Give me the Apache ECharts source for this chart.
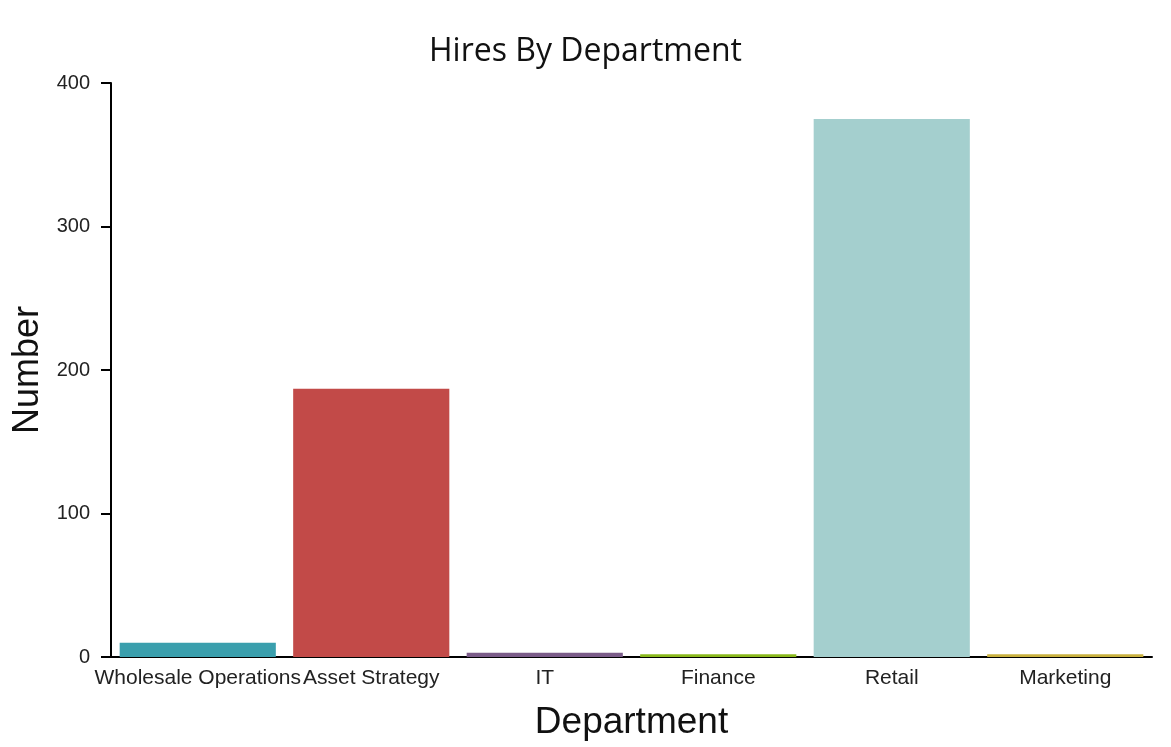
<!DOCTYPE html>
<html><head><meta charset="utf-8">
<script src="https://cdn.jsdelivr.net/npm/echarts@6/dist/echarts.min.js"></script>
<style>html,body{margin:0;padding:0;background:#fff}#c{width:1171px;height:747px}</style>
</head><body><div id="c"></div>
<script>
const categories = ["Wholesale Operations","Asset Strategy","IT","Finance","Retail","Marketing"];
const hires = [10, 187, 3, 2, 375, 2];
const barColors = ["#3a9fad","#c24a48","#7b5c89","#8ab91c","#a4cfce","#c9b13f"];
const yTicks = [0, 100, 200, 300, 400];

const chart = echarts.init(document.getElementById('c'));
chart.setOption({
  animation: false,
  title: {text: "Hires By Department", left: 'center', top: 31,
    textStyle: {fontFamily: "Open Sans", fontWeight: 'normal', fontSize: 32, color: '#111'}},
  grid: {left: 111, right: 19, top: 83, bottom: 90, containLabel: false, outerBoundsMode: 'none'},
  xAxis: {
    type: 'category', data: categories,
    name: "Department", nameLocation: 'middle', nameGap: 47,
    nameTextStyle: {fontFamily: "Liberation Sans", fontSize: 37, color: '#111'},
    axisLine: {lineStyle: {color: '#000', width: 2}},
    axisTick: {alignWithLabel: true, length: 7, lineStyle: {color: '#000', width: 2}},
    axisLabel: {fontFamily: "Liberation Sans", fontSize: 21, color: '#222', margin: 11, interval: 0}
  },
  yAxis: {
    type: 'value', min: yTicks[0], max: yTicks[yTicks.length-1], interval: 100,
    name: "Number", nameLocation: 'middle', nameGap: 62, nameRotate: 90,
    nameTextStyle: {fontFamily: "Liberation Sans", fontSize: 36, color: '#111'},
    axisLine: {show: true, lineStyle: {color: '#000', width: 2}},
    axisTick: {show: true, length: 10, lineStyle: {color: '#000', width: 2}},
    axisLabel: {fontFamily: "Liberation Sans", fontSize: 20, color: '#222', margin: 21},
    splitLine: {show: false}
  },
  series: [{
    type: 'bar', data: hires.map((v, i) => ({value: v, itemStyle: {color: barColors[i]}})),
    barCategoryGap: '10%'
  }]
});
</script></body></html>
